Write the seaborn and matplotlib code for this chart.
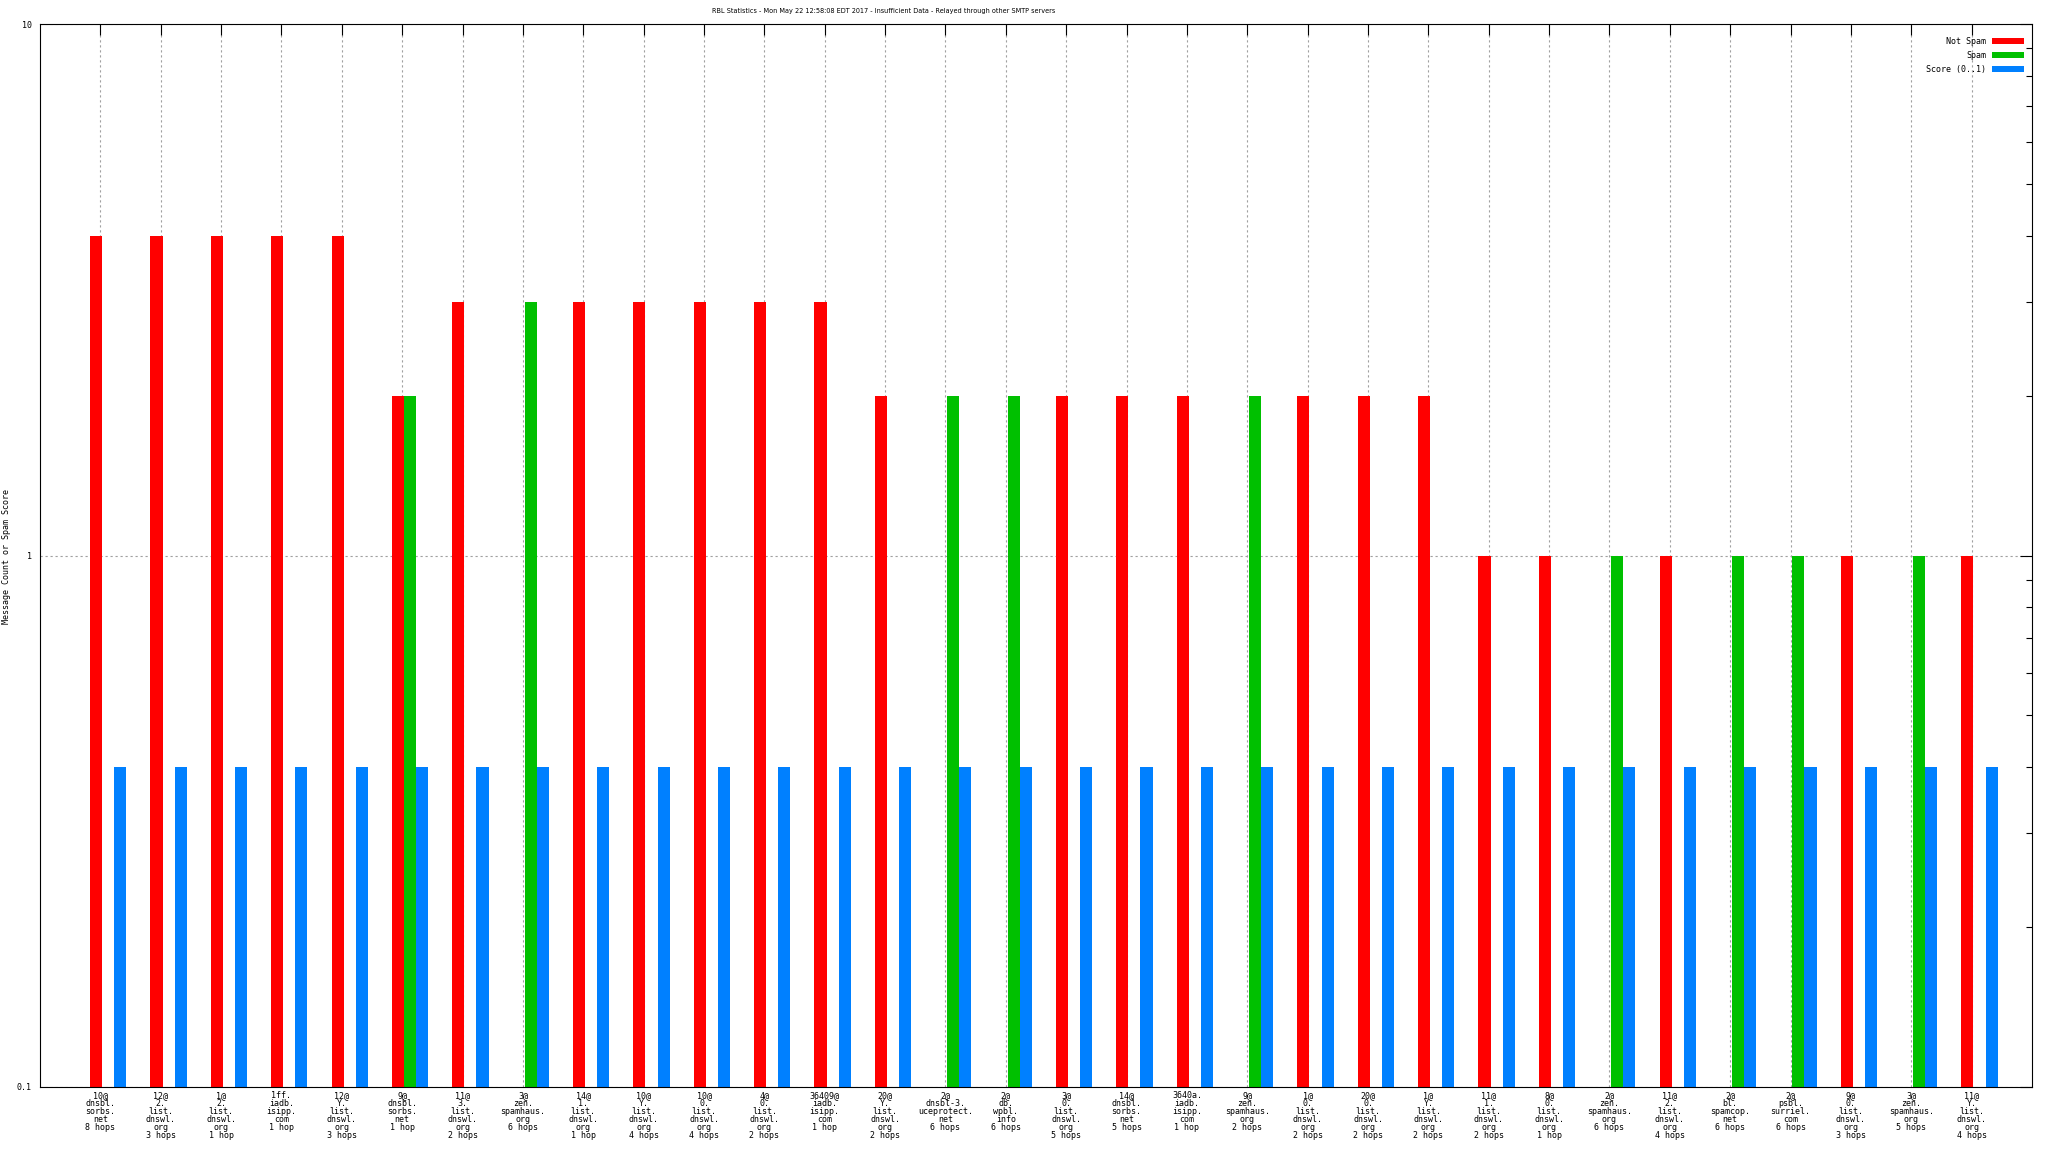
import pandas as pd
import matplotlib
matplotlib.use('Agg')
import matplotlib.pyplot as plt
import seaborn as sns
from matplotlib.patches import Patch
from matplotlib.ticker import FuncFormatter, NullFormatter, NullLocator, LogLocator

# RBL hits, one cluster per list/hop combination
labels = [
    "10@\ndnsbl.\nsorbs.\nnet\n8 hops",
    "12@\n2.\nlist.\ndnswl.\norg\n3 hops",
    "1@\n2.\nlist.\ndnswl.\norg\n1 hop",
    "1ff.\niadb.\nisipp.\ncom\n1 hop",
    "12@\nY.\nlist.\ndnswl.\norg\n3 hops",
    "9@\ndnsbl.\nsorbs.\nnet\n1 hop",
    "11@\n3.\nlist.\ndnswl.\norg\n2 hops",
    "3@\nzen.\nspamhaus.\norg\n6 hops",
    "14@\n1.\nlist.\ndnswl.\norg\n1 hop",
    "10@\nY.\nlist.\ndnswl.\norg\n4 hops",
    "10@\n0.\nlist.\ndnswl.\norg\n4 hops",
    "4@\n0.\nlist.\ndnswl.\norg\n2 hops",
    "36409@\niadb.\nisipp.\ncom\n1 hop",
    "20@\nY.\nlist.\ndnswl.\norg\n2 hops",
    "2@\ndnsbl-3.\nuceprotect.\nnet\n6 hops",
    "2@\ndb.\nwpbl.\ninfo\n6 hops",
    "3@\n0.\nlist.\ndnswl.\norg\n5 hops",
    "14@\ndnsbl.\nsorbs.\nnet\n5 hops",
    "3640a.\niadb.\nisipp.\ncom\n1 hop",
    "9@\nzen.\nspamhaus.\norg\n2 hops",
    "1@\n0.\nlist.\ndnswl.\norg\n2 hops",
    "20@\n0.\nlist.\ndnswl.\norg\n2 hops",
    "1@\nY.\nlist.\ndnswl.\norg\n2 hops",
    "11@\n1.\nlist.\ndnswl.\norg\n2 hops",
    "8@\n0.\nlist.\ndnswl.\norg\n1 hop",
    "2@\nzen.\nspamhaus.\norg\n6 hops",
    "11@\n2.\nlist.\ndnswl.\norg\n4 hops",
    "2@\nbl.\nspamcop.\nnet\n6 hops",
    "2@\npsbl.\nsurriel.\ncom\n6 hops",
    "9@\n0.\nlist.\ndnswl.\norg\n3 hops",
    "3@\nzen.\nspamhaus.\norg\n5 hops",
    "11@\nY.\nlist.\ndnswl.\norg\n4 hops",
]
not_spam = [4, 4, 4, 4, 4, 2, 3, 0, 3, 3, 3, 3, 3, 2, 0, 0,
            2, 2, 2, 0, 2, 2, 2, 1, 1, 0, 1, 0, 0, 1, 0, 1]
spam = [0, 0, 0, 0, 0, 2, 0, 3, 0, 0, 0, 0, 0, 0, 2, 2,
        0, 0, 0, 2, 0, 0, 0, 0, 0, 1, 0, 1, 1, 0, 1, 0]
score = [0.4, 0.4, 0.4, 0.4, 0.4, 0.4, 0.4, 0.4, 0.4, 0.4, 0.4, 0.4, 0.4, 0.4, 0.4, 0.4,
         0.4, 0.4, 0.4, 0.4, 0.4, 0.4, 0.4, 0.4, 0.4, 0.4, 0.4, 0.4, 0.4, 0.4, 0.4, 0.4]

series_names = ['Not Spam', 'Spam', 'Score (0..1)']
colors = ['#ff0000', '#00c000', '#0080ff']

# cluster centre sits a bit right of the tick, like gnuplot's clustered histogram
rows = []
for i in range(len(labels)):
    for name, vals in zip(series_names, (not_spam, spam, score)):
        if vals[i] > 0:
            rows.append({'pos': i + 0.13, 'series': name, 'value': vals[i]})
df = pd.DataFrame(rows)

sns.set_theme(style='white', rc={'axes.edgecolor': 'black', 'text.color': 'black',
                                 'xtick.color': 'black', 'ytick.color': 'black',
                                 'axes.labelcolor': 'black'})
plt.rcParams['font.family'] = ['DejaVu Sans Mono', 'DejaVu Sans']

fig = plt.figure(figsize=(20.48, 11.52), dpi=100)
ax = fig.add_axes([40 / 2048, 1 - 1087 / 1152, (2032 - 40) / 2048, (1087 - 24) / 1152])
ax.set_axisbelow(True)

sns.barplot(data=df, x='pos', y='value', hue='series', hue_order=series_names,
            palette=colors, native_scale=True, width=0.6, dodge=True, gap=0,
            saturation=1, errorbar=None, linewidth=0, legend=False, ax=ax)
for p in ax.patches:
    p.set_zorder(3)
    p.set_edgecolor('none')

ax.set_yscale('log')
ax.set_ylim(0.1, 10)
ax.set_xlim(-1, 32)
ax.set_xticks(range(len(labels)))
ax.set_xticklabels(labels, fontsize=6, linespacing=0.85)
ax.xaxis.set_minor_locator(NullLocator())
ax.yaxis.set_major_locator(LogLocator(base=10))
ax.yaxis.set_minor_locator(LogLocator(base=10, subs=(2, 3, 4, 5, 6, 7, 8, 9)))
ax.yaxis.set_major_formatter(FuncFormatter(lambda v, _: f'{v:g}'))
ax.yaxis.set_minor_formatter(NullFormatter())
ax.tick_params(axis='both', which='both', direction='in', top=True, right=True,
               labelsize=6, width=0.8)
ax.tick_params(axis='x', which='major', length=8, pad=3)
ax.tick_params(axis='y', which='major', length=8.6, pad=6)
ax.tick_params(axis='y', which='minor', length=4.3)
ax.set_xlabel('')
ax.set_ylabel('')
for s in ax.spines.values():
    s.set_linewidth(0.8)
    s.set_color('black')
    s.set_zorder(5)

ax.grid(True, axis='both', which='major', color='#a0a0a0', linewidth=0.8,
        linestyle=(0, (2, 2.5)))
ax.set_axisbelow(True)

handles = [Patch(facecolor=c, edgecolor='none', label=n) for n, c in zip(series_names, colors)]
ax.legend(handles=handles, loc='upper right', bbox_to_anchor=(2024 / 2048, 1 - 37 / 1152),
          bbox_transform=fig.transFigure, frameon=False, markerfirst=False,
          fontsize=6, handlelength=3.8, handleheight=0.7, handletextpad=0.7,
          labelspacing=0.6, borderpad=0, borderaxespad=0)

fig.text(884 / 2048, 1 - 11 / 1152, 'RBL Statistics - Mon May 22 12:58:08 EDT 2017 - '
         'Insufficient Data - Relayed through other SMTP servers',
         ha='center', va='center', fontsize=4.7, family='DejaVu Sans')
fig.text(7 / 2048, 1 - 556 / 1152, 'Message Count or Spam Score', rotation=90,
         ha='center', va='center', fontsize=6)

fig.savefig('out.png', dpi=100)
